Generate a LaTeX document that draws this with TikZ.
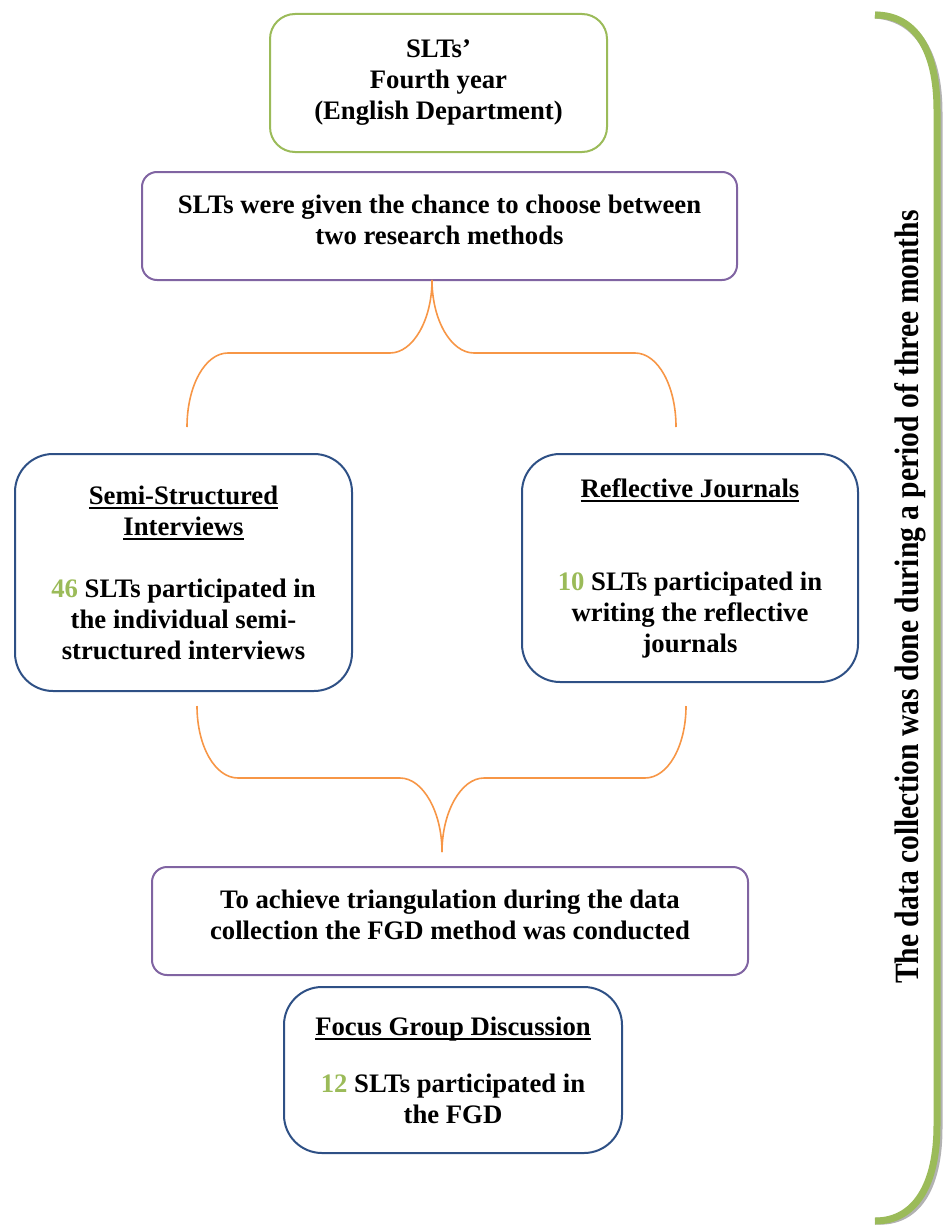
\documentclass[tikz,border=0pt]{standalone}
\usepackage{fontspec}
\setmainfont{Liberation Serif}
\usepackage{tikz}
\usetikzlibrary{positioning}
\definecolor{boxgreen}{HTML}{9BBB59}
\definecolor{boxpurple}{HTML}{8064A2}
\definecolor{boxblue}{HTML}{2E5085}
\definecolor{braceorange}{HTML}{F79646}
\newcommand{\num}[1]{\textcolor{boxgreen}{#1}}
\newcommand{\undl}[1]{\leavevmode\setbox0\hbox{#1}\rlap{\rule[-4.5pt]{\wd0}{1.6pt}}\box0}
\newcommand{\lift}[1]{\raisebox{3pt}[\height][\depth]{\begin{tabular}{@{}c@{}}#1\end{tabular}}}
\tikzset {
    box green/.style={
        draw=boxgreen,
        line width=2pt,
        rectangle, % Set the shape as a rectangle
        rounded corners=25pt,
        inner sep=0pt,
        align=center,
    },
    box purple/.style={
        draw=boxpurple,
        line width=2pt,
        rectangle, % Set the shape as a rectangle
        rounded corners=15pt,
        inner sep=0pt,
        align=center,
    },
    box blue/.style={
        draw=boxblue,
        line width=2pt,
        rectangle, % Set the shape as a rectangle
        rounded corners=38pt,
        inner sep=0pt,
        align=center,
    },
    brace line/.style={
        draw=braceorange,
        line width=1.6pt,
    },
}
\begin{document}
\begin{tikzpicture}
[x=1pt, y=-1pt, font=\fontsize{26.7}{31}\selectfont\bfseries]
\useasboundingbox (0,0) rectangle (942,1228);

\node[box green, minimum width=337pt, minimum height=138pt] at (438.5, 83) (year) {SLTs'\\Fourth year\\(English Department)};
\node[box purple, minimum width=595pt, minimum height=108pt] at (439.5, 226) (choose) {\lift{SLTs were given the chance to choose between\\two research methods}};
\node[box blue, minimum width=337pt, minimum height=237pt] at (183.5, 572.5) (interviews) {\undl{Semi-Structured}\\\undl{Interviews}\\[31pt]\num{46} SLTs participated in\\the individual semi-\\structured interviews};
\node[box blue, minimum width=336pt, minimum height=228pt] at (690, 568) (journals) {\undl{Reflective Journals}\\[62pt]\num{10} SLTs participated in\\writing the reflective\\journals};
\node[box purple, minimum width=596pt, minimum height=108pt] at (450, 921) (triang) {\lift{To achieve triangulation during the data\\collection the FGD method was conducted}};
\node[box blue, minimum width=338pt, minimum height=166pt] at (453, 1070) (fgd) {\undl{Focus Group Discussion}\\[26pt]\num{12} SLTs participated in\\the FGD};
\node[rotate=90, anchor=base] at (918, 597) (period) {\fontsize{34}{38}\selectfont\scalebox{0.87}[1]{The data collection was done during a period of three months}};

\coordinate (upTip) at (432, 280);
\coordinate (upLeft) at (187, 427);
\coordinate (upRight) at (676, 427);
\coordinate (lowLeft) at (197, 706);
\coordinate (lowRight) at (686, 706);
\coordinate (lowTip) at (442, 852);

\draw[brace line] (upLeft) .. controls (187, 386) and (205, 353) .. (228, 353) -- (390, 353) .. controls (413, 353) and (432, 320) .. (upTip);
\draw[brace line] (upTip) .. controls (432, 320) and (451, 353) .. (474, 353) -- (635, 353) .. controls (658, 353) and (676, 386) .. (upRight);
\draw[brace line] (lowLeft) .. controls (197, 746) and (215, 778) .. (238, 778) -- (400, 778) .. controls (423, 778) and (442, 812) .. (lowTip);
\draw[brace line] (lowTip) .. controls (442, 812) and (461, 778) .. (484, 778) -- (645, 778) .. controls (668, 778) and (686, 746) .. (lowRight);

\coordinate (spanTop) at (875, 15);
\coordinate (spanBottom) at (875, 1221);
\draw[gray!60, line width=7pt, shift={(2,3)}] (spanTop) .. controls (915, 15) and (937, 50) .. (937, 110) -- (937, 1125) .. controls (937, 1185) and (915, 1221) .. (spanBottom);
\draw[boxgreen, line width=7pt] (spanTop) .. controls (915, 15) and (937, 50) .. (937, 110) -- (937, 1125) .. controls (937, 1185) and (915, 1221) .. (spanBottom);
\end{tikzpicture}
\end{document}
